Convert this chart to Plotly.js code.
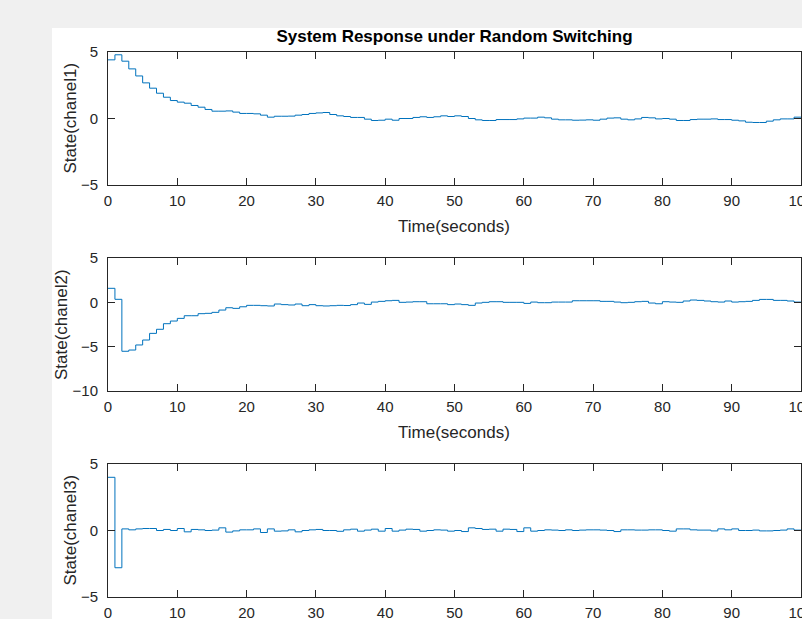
<!DOCTYPE html>
<html>
<head>
<meta charset="utf-8">
<script src="https://cdn.plot.ly/plotly-3.0.1.min.js"></script>
<style>
html,body{margin:0;padding:0;background:#f0f0f0;width:802px;height:619px;overflow:hidden;}
#chart{position:absolute;left:52px;top:28px;width:750px;height:591px;}
</style>
</head>
<body>
<div id="chart"></div>
<script>
const timeSec = [0,1,2,3,4,5,6,7,8,9,10,11,12,13,14,15,16,17,18,19,20,21,22,23,24,25,26,27,28,29,30,31,32,33,34,35,36,37,38,39,40,41,42,43,44,45,46,47,48,49,50,51,52,53,54,55,56,57,58,59,60,61,62,63,64,65,66,67,68,69,70,71,72,73,74,75,76,77,78,79,80,81,82,83,84,85,86,87,88,89,90,91,92,93,94,95,96,97,98,99,100];

const state1 = [4.41,4.79,4.31,3.73,3.2,2.68,2.28,1.9,1.6,1.35,
1.23,1.15,0.98,0.85,0.68,0.55,0.55,0.57,0.48,0.38,
0.38,0.35,0.25,0.1,0.17,0.17,0.18,0.25,0.3,0.38,
0.42,0.45,0.3,0.2,0.15,0.08,0.08,-0.05,-0.15,-0.13,
-0.05,-0.13,0,0,0.08,0.13,0.08,0.13,0.2,0.15,
0.2,0.15,0,-0.1,-0.15,-0.15,-0.08,-0.08,-0.08,-0.03,
0.03,0.03,0.1,0.05,-0.05,-0.1,-0.1,-0.13,-0.12,-0.1,
-0.13,-0.05,0.03,0.05,-0.05,-0.1,-0.03,0.08,0.05,-0.03,
0,-0.05,-0.15,-0.15,-0.08,-0.05,-0.05,-0.03,-0.08,-0.08,
-0.13,-0.18,-0.28,-0.3,-0.3,-0.2,-0.1,-0.03,-0.03,0.1,0.1];

const state2 = [1.58,0.34,-5.52,-5.38,-4.81,-4.25,-3.5,-3.04,-2.41,-2.11,
-1.81,-1.51,-1.51,-1.28,-1.24,-1.13,-0.87,-0.61,-0.68,-0.5,
-0.34,-0.34,-0.38,-0.41,-0.19,-0.26,-0.3,-0.19,-0.38,-0.26,
-0.38,-0.41,-0.38,-0.34,-0.36,-0.26,-0.08,-0.23,0.03,0.11,
0.18,0.22,0,0.03,0.07,0.07,-0.16,-0.16,-0.16,-0.26,
-0.19,-0.26,-0.34,-0.08,0,0.07,0.07,0,0,0,
-0.12,0.03,-0.04,-0.04,0.03,0.03,0.03,0.18,0.18,0.18,
0.18,0.11,0.11,0.03,-0.04,0,0.07,0.11,-0.08,-0.16,
0.07,0.03,0,0.15,0.26,0.22,0.15,0.07,0.03,0.15,
0.03,0.07,0.11,0.22,0.33,0.33,0.22,0.22,0.15,0.03,0.03];

const state3 = [4.0,-2.8,0.12,0.05,0.12,0.15,0.15,0,0.08,0,
0.15,-0.1,0.08,0.05,0,0.03,0.2,-0.12,-0.03,0.05,
0.05,0.12,-0.15,0.12,-0.05,-0.03,0.05,-0.1,0,0.05,
0.08,0,0,-0.06,0.05,0.1,-0.05,0.03,0.1,-0.05,
0.15,-0.05,0.03,0.1,0.08,-0.05,0,0.05,0.03,-0.05,
0,-0.08,0.2,0.15,0.08,0.1,-0.05,0.1,0.08,-0.08,
0.2,-0.05,0,0.05,0.03,0,0.05,0,0.03,0.05,
0.05,0.03,0,-0.08,0.05,0.05,0.03,0.03,0.05,0.05,
0,-0.05,0.12,0.12,0.05,0.03,0.03,-0.03,0.12,0.05,
0.12,0,0,0.03,-0.03,-0.03,0,0.03,0.12,0.03,0.03];

const titleText = "System Response under Random Switching";
const xLabel = "Time(seconds)";
const yLabels = ["State(chanel1)", "State(chanel2)", "State(chanel3)"];
const xTicks = [0,10,20,30,40,50,60,70,80,90,100];
const yTicks1 = [-5,0,5];
const yTicks2 = [-10,-5,0,5];
const yTicks3 = [-5,0,5];

const lineColor = '#0072BD';
const axisColor = '#262626';
const fontFam = 'Liberation Sans, Arial, Helvetica, sans-serif';

function trace(y, xa, ya) {
  return {x: timeSec, y: y, xaxis: xa, yaxis: ya, type: 'scatter', mode: 'lines',
    line: {shape: 'hv', color: lineColor, width: 1}, hoverinfo: 'skip', showlegend: false};
}

function xAxis(anchor) {
  return {domain: [0, 1], anchor: anchor, range: [0, 100], tickvals: xTicks,
    ticks: 'inside', ticklen: 7, tickwidth: 1, tickcolor: axisColor,
    showline: true, linecolor: axisColor, linewidth: 1, mirror: 'ticks',
    showgrid: false, zeroline: false, tickfont: {size: 15, color: axisColor, family: fontFam},
    ticklabelstandoff: 2, ticklabeloverflow: 'allow', fixedrange: true};
}
function yAxis(anchor, dom, range, ticks) {
  return {domain: dom, anchor: anchor, range: range, tickvals: ticks,
    ticks: 'inside', ticklen: 7, tickwidth: 1, tickcolor: axisColor,
    showline: true, linecolor: axisColor, linewidth: 1, mirror: 'ticks',
    showgrid: false, zeroline: false, tickfont: {size: 15, color: axisColor, family: fontFam},
    ticklabelstandoff: 6, ticklabeloverflow: 'allow', fixedrange: true};
}

const H = 591;
const d1 = [(H-157)/H, (H-24)/H];
const d2 = [(H-363)/H, (H-230)/H];
const d3 = [(H-569)/H, (H-436)/H];

const data = [trace(state1,'x','y'), trace(state2,'x2','y2'), trace(state3,'x3','y3')];

const labFont = {size: 17, color: axisColor, family: fontFam};
const annotations = [
  {text: yLabels[0], xref:'paper', yref:'paper', x: -0.0548, y: (d1[0]+d1[1])/2, textangle: -90, showarrow:false, xanchor:'center', yanchor:'middle', font: labFont},
  {text: yLabels[1], xref:'paper', yref:'paper', x: -0.0671, y: (d2[0]+d2[1])/2, textangle: -90, showarrow:false, xanchor:'center', yanchor:'middle', font: labFont},
  {text: yLabels[2], xref:'paper', yref:'paper', x: -0.0548, y: (d3[0]+d3[1])/2, textangle: -90, showarrow:false, xanchor:'center', yanchor:'middle', font: labFont},
  {text: xLabel, xref:'paper', yref:'paper', x: 0.4993, y: (H-199)/H, showarrow:false, xanchor:'center', yanchor:'middle', font: labFont},
  {text: xLabel, xref:'paper', yref:'paper', x: 0.4993, y: (H-405)/H, showarrow:false, xanchor:'center', yanchor:'middle', font: labFont}
];

const layout = {
  width: 750, height: 591,
  margin: {l: 56, r: 1, t: 0, b: 0, pad: 0},
  paper_bgcolor: '#ffffff', plot_bgcolor: '#ffffff',
  title: {text: '<b>' + titleText + '</b>', font: {size: 17, color: '#000000', family: fontFam},
    xref: 'paper', x: 0.5, xanchor: 'center', yref: 'container', y: (H-8)/H, yanchor: 'middle'},
  xaxis: xAxis('y'), yaxis: yAxis('x', d1, [-5, 5], yTicks1),
  xaxis2: xAxis('y2'), yaxis2: yAxis('x2', d2, [-10, 5], yTicks2),
  xaxis3: xAxis('y3'), yaxis3: yAxis('x3', d3, [-5, 5], yTicks3),
  annotations: annotations,
  showlegend: false
};

Plotly.newPlot('chart', data, layout, {staticPlot: true, displayModeBar: false});
</script>
</body>
</html>
